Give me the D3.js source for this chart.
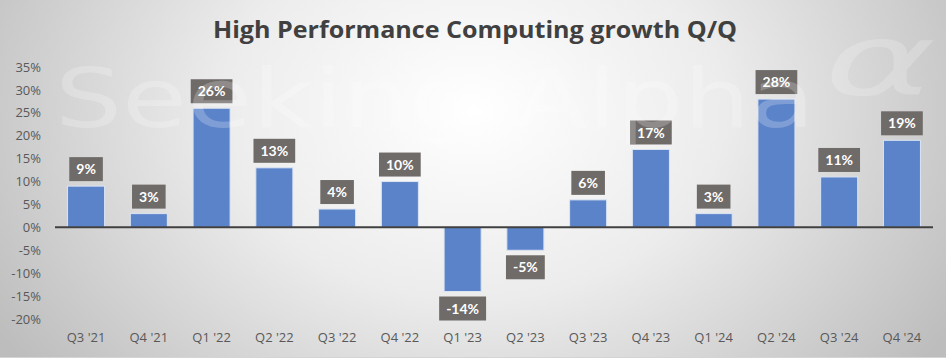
<!DOCTYPE html>
<html>
<head>
<meta charset="utf-8">
<script src="https://cdn.jsdelivr.net/npm/d3@7"></script>
<style>
  html, body { margin: 0; padding: 0; background: #fff; }
  svg { display: block; font-family: Lato, "Open Sans", sans-serif; }
</style>
</head>
<body>
<div id="chart"></div>
<script>
// data
const quarters = ["Q3 '21", "Q4 '21", "Q1 '22", "Q2 '22", "Q3 '22", "Q4 '22", "Q1 '23",
  "Q2 '23", "Q3 '23", "Q4 '23", "Q1 '24", "Q2 '24", "Q3 '24", "Q4 '24"];
const growth = [9, 3, 26, 13, 4, 10, -14, -5, 6, 17, 3, 28, 11, 19];
const yTicks = [35, 30, 25, 20, 15, 10, 5, 0, -5, -10, -15, -20];
const title = "High Performance Computing growth Q/Q";

// dimensions
const WIDTH = 946;
const HEIGHT = 361;
const PLOT_H = 357;

const svg = d3.select('#chart').append('svg')
  .attr('width', WIDTH)
  .attr('height', HEIGHT);

// background gradient
const defs = svg.append('defs');
const grad = defs.append('radialGradient')
  .attr('id', 'bg')
  .attr('gradientUnits', 'userSpaceOnUse')
  .attr('cx', 473).attr('cy', 110).attr('r', 560)
  .attr('gradientTransform', 'translate(473,110) scale(1,0.75) translate(-473,-110)');
grad.append('stop').attr('offset', '0%').attr('stop-color', '#ffffff');
grad.append('stop').attr('offset', '45%').attr('stop-color', '#ececec');
grad.append('stop').attr('offset', '100%').attr('stop-color', '#bdbdbd');

svg.append('rect')
  .attr('width', WIDTH).attr('height', PLOT_H)
  .attr('fill', 'url(#bg)');

// bottom spreadsheet strip
svg.append('line')
  .attr('x1', 0).attr('x2', WIDTH).attr('y1', PLOT_H + 0.5).attr('y2', PLOT_H + 0.5)
  .attr('stroke', '#d4d4d4');

// title
svg.append('text')
  .attr('x', 475).attr('y', 38)
  .attr('text-anchor', 'middle')
  .attr('font-size', 23)
  .attr('font-weight', 'bold')
  .attr('font-family', '"Open Sans", sans-serif')
  .attr('fill', '#404040')
  .attr('textLength', 524)
  .attr('lengthAdjust', 'spacingAndGlyphs')
  .text(title);

// scales
const x = d3.scaleBand()
  .domain(quarters)
  .range([55, 933])
  .paddingInner(0.41)
  .paddingOuter(0.2);

const y = d3.scaleLinear()
  .domain([-20, 35])
  .range([319, 67]);

// y axis
const yAxis = svg.append('g')
  .attr('transform', 'translate(41,0)')
  .call(d3.axisLeft(y).tickValues(yTicks).tickSize(0).tickPadding(0).tickFormat(d => d + '%'));
yAxis.select('.domain').remove();
yAxis.selectAll('text')
  .attr('font-size', 13)
  .attr('font-family', '"Open Sans", sans-serif')
  .attr('fill', '#595959');

// x axis labels
const xAxis = svg.append('g')
  .attr('transform', 'translate(0,337)')
  .call(d3.axisBottom(x).tickSize(0).tickPadding(0));
xAxis.select('.domain').remove();
xAxis.selectAll('text')
  .attr('dy', '0.35em')
  .attr('font-size', 13)
  .attr('font-family', '"Open Sans", sans-serif')
  .attr('fill', '#595959');

// bars
svg.append('g').selectAll('rect')
  .data(growth)
  .join('rect')
  .attr('x', (d, i) => x(quarters[i]))
  .attr('width', x.bandwidth())
  .attr('y', d => y(Math.max(0, d)))
  .attr('height', d => Math.abs(y(d) - y(0)))
  .attr('fill', '#5b83c9')
  .attr('stroke', '#dbe4f3')
  .attr('stroke-width', 1);

// zero line
svg.append('line')
  .attr('x1', 55).attr('x2', 933)
  .attr('y1', y(0)).attr('y2', y(0))
  .attr('stroke', '#404040')
  .attr('stroke-width', 2);

// data labels
const labels = svg.append('g').selectAll('g')
  .data(growth)
  .join('g')
  .attr('transform', (d, i) => {
    const cx = x(quarters[i]) + x.bandwidth() / 2;
    const cy = d >= 0 ? y(d) - 17 : y(d) + 17;
    return `translate(${cx},${cy})`;
  });

labels.append('text')
  .attr('text-anchor', 'middle')
  .attr('dy', '0.36em')
  .attr('font-size', 14)
  .attr('font-weight', 'bold')
  .attr('fill', '#ffffff')
  .text(d => d + '%')
  .each(function () {
    const bb = this.getBBox();
    d3.select(this.parentNode).insert('rect', 'text')
      .attr('x', -bb.width / 2 - 7)
      .attr('y', -12)
      .attr('width', bb.width + 14)
      .attr('height', 24)
      .attr('fill', '#6f6b69');
  });

// watermark, drawn over the marks like the source image
const wm = svg.append('g')
  .attr('fill', '#ffffff')
  .attr('fill-opacity', 0.22)
  .attr('font-family', '"DejaVu Sans", sans-serif')
  .attr('font-size', 82)
  .style('pointer-events', 'none');
wm.append('text')
  .attr('x', 55).attr('y', 127)
  .attr('textLength', 422)
  .attr('lengthAdjust', 'spacingAndGlyphs')
  .text('Seeking');
wm.append('text')
  .attr('x', 515).attr('y', 127)
  .attr('textLength', 300)
  .attr('lengthAdjust', 'spacingAndGlyphs')
  .text('Alpha');
wm.append('text')
  .attr('x', 824).attr('y', 95)
  .attr('font-style', 'italic')
  .attr('font-weight', 200)
  .attr('font-size', 100)
  .attr('fill-opacity', 0.2)
  .attr('textLength', 112)
  .attr('lengthAdjust', 'spacingAndGlyphs')
  .text('α');
</script>
</body>
</html>
